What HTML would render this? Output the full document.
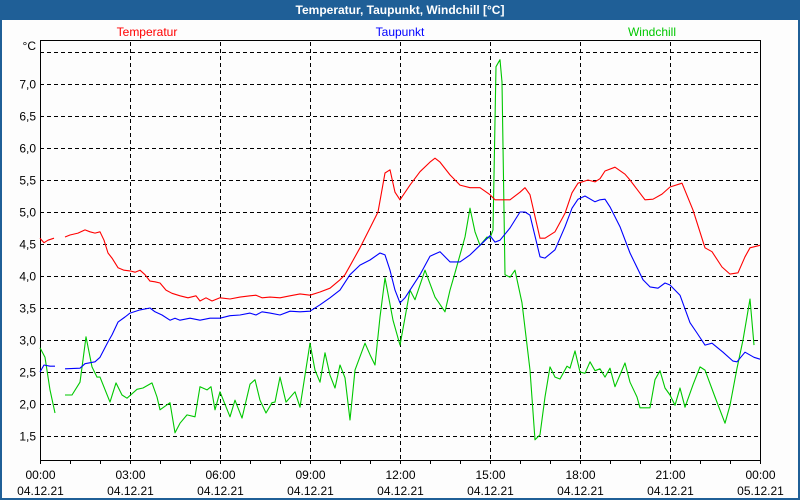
<!DOCTYPE html>
<html><head><meta charset="utf-8"><style>
html,body{margin:0;padding:0;}
body{width:800px;height:500px;background:#1f5f97;overflow:hidden;font-family:"Liberation Sans","DejaVu Sans",sans-serif;}
#win{position:absolute;left:2px;top:20px;width:796px;height:478px;background:#fdfdfd;}
#title{position:absolute;left:0;top:0;width:800px;height:20px;line-height:20px;text-align:center;color:#fff;font-weight:bold;font-size:12px;}
svg{position:absolute;left:0;top:0;}
</style></head><body>
<div id="title">Temperatur, Taupunkt, Windchill [°C]</div>
<div id="win"></div>
<svg id="chart" width="800" height="500"></svg>
<script>
const yTicks = [1.5,2.0,2.5,3.0,3.5,4.0,4.5,5.0,5.5,6.0,6.5,7.0,7.5];
const yLabelMax = 7.0;
const xTickHours = [0,3,6,9,12,15,18,21,24];
const xTimeLabels = ["00:00","03:00","06:00","09:00","12:00","15:00","18:00","21:00","00:00"];
const xDateLabels = ["04.12.21","04.12.21","04.12.21","04.12.21","04.12.21","04.12.21","04.12.21","04.12.21","05.12.21"];
const seriesNames = ["Temperatur","Taupunkt","Windchill"];
// minutes since 00:00, null = gap
const tempT = [0,8,16,28,null,50,60,76,90,100,110,120,128,136,144,156,168,180,190,200,210,220,230,240,252,264,280,296,312,320,332,344,360,380,400,420,432,444,460,480,500,520,540,560,580,600,610,620,640,660,676,690,700,710,720,740,760,780,790,800,820,840,860,880,900,910,930,940,960,970,980,1000,1010,1030,1050,1064,1076,1096,1110,1120,1130,1150,1170,1180,1210,1226,1244,1260,1284,1306,1330,1344,1364,1380,1396,1410,1420,1440];
const tempV = [4.59,4.52,4.56,4.59,null,4.61,4.64,4.67,4.72,4.69,4.67,4.69,4.56,4.36,4.28,4.13,4.09,4.08,4.06,4.09,4.02,3.92,3.91,3.89,3.78,3.73,3.69,3.66,3.69,3.61,3.66,3.61,3.66,3.64,3.67,3.69,3.70,3.66,3.67,3.66,3.69,3.72,3.70,3.75,3.81,3.94,4.02,4.16,4.44,4.75,5.0,5.61,5.66,5.31,5.19,5.42,5.63,5.78,5.84,5.78,5.58,5.42,5.38,5.38,5.27,5.19,5.19,5.19,5.31,5.38,5.27,4.59,4.59,4.69,4.98,5.30,5.45,5.50,5.47,5.52,5.64,5.70,5.59,5.50,5.19,5.20,5.28,5.39,5.45,5.03,4.44,4.38,4.14,4.03,4.05,4.30,4.44,4.48];
const dewT = [0,8,20,30,null,50,80,90,110,120,136,144,156,170,180,200,220,230,244,260,270,280,300,320,340,360,380,400,420,432,444,460,480,500,520,540,560,580,600,620,640,660,680,690,700,710,720,730,740,760,780,800,820,840,860,880,900,910,920,940,960,970,980,1000,1010,1030,1050,1064,1076,1090,1110,1120,1130,1140,1160,1180,1206,1220,1236,1250,1260,1280,1300,1314,1330,1344,1366,1386,1394,1410,1428,1440];
const dewV = [2.5,2.61,2.59,2.59,null,2.55,2.56,2.63,2.66,2.73,2.97,3.08,3.28,3.36,3.42,3.47,3.5,3.44,3.39,3.31,3.34,3.31,3.34,3.31,3.34,3.34,3.38,3.39,3.42,3.39,3.44,3.42,3.39,3.45,3.44,3.45,3.55,3.66,3.78,4.02,4.17,4.25,4.36,4.33,4.09,3.78,3.58,3.66,3.78,4.02,4.31,4.38,4.22,4.22,4.33,4.48,4.63,4.53,4.56,4.75,5.0,5.0,4.95,4.30,4.28,4.41,4.77,5.06,5.20,5.25,5.16,5.19,5.20,5.08,4.77,4.36,3.94,3.83,3.81,3.89,3.86,3.70,3.27,3.11,2.92,2.95,2.81,2.67,2.66,2.81,2.73,2.70];
const chillT = [0,10,20,30,null,50,64,80,86,92,104,114,120,140,152,164,174,194,206,224,234,240,260,270,280,294,310,320,334,342,350,360,380,390,404,420,430,440,452,464,470,480,492,510,520,540,550,560,570,580,590,600,610,620,630,650,660,670,680,690,706,720,740,750,770,790,810,820,830,850,860,870,880,894,900,906,912,920,924,930,940,950,964,980,990,1000,1010,1020,1030,1040,1054,1060,1070,1080,1090,1100,1110,1120,1130,1140,1150,1170,1180,1194,1200,1220,1230,1240,1250,1260,1270,1280,1290,1306,1320,1330,1350,1370,1380,1394,1406,1420,1428];
const chillV = [2.88,2.73,2.22,1.86,null,2.14,2.14,2.34,2.69,3.05,2.58,2.42,2.42,2.03,2.33,2.14,2.09,2.23,2.25,2.33,2.11,1.91,2.02,1.55,1.70,1.83,1.80,2.27,2.22,2.27,1.91,2.19,1.80,2.06,1.78,2.31,2.38,2.06,1.86,2.02,2.03,2.42,2.03,2.19,1.95,2.95,2.53,2.34,2.80,2.45,2.25,2.61,2.41,1.75,2.53,2.95,2.77,2.61,3.36,3.97,3.31,2.92,3.78,3.63,4.09,3.67,3.44,3.78,4.05,4.61,5.06,4.69,4.48,4.61,4.59,4.72,7.27,7.38,7.03,4.02,3.98,4.09,3.58,2.53,1.44,1.52,2.11,2.58,2.42,2.39,2.59,2.56,2.83,2.5,2.48,2.66,2.52,2.55,2.42,2.56,2.27,2.64,2.34,2.11,1.94,1.94,2.38,2.52,2.25,2.14,1.98,2.25,1.95,2.30,2.58,2.53,2.11,1.70,1.98,2.56,3.0,3.64,2.92];

const NS="http://www.w3.org/2000/svg";
const svg=document.getElementById('chart');
const L=40,R=760,T=40,B=460;
function xS(min){return L+(min/1440)*(R-L);}
function yS(v){return 84+(7-v)*64;}
function mk(tag,attrs,parent){const e=document.createElementNS(NS,tag);for(const k in attrs)e.setAttribute(k,attrs[k]);(parent||svg).appendChild(e);return e;}

yTicks.forEach(v=>{
  const y=Math.round(yS(v))+0.5;
  const g=mk('line',{x1:L,x2:R-2,y1:y,y2:y,stroke:'#000','stroke-dasharray':'4,3','stroke-width':1});
  
  
  if(v<=yLabelMax){
    const t=mk('text',{x:36,y:y+4,'text-anchor':'end','font-size':12,fill:'#000'});
    t.textContent=v.toFixed(1).replace('.',',');
    
    
  }
});
xTickHours.forEach((h,i)=>{
  const x=Math.round(xS(h*60))+0.5;
  if(h>0&&h<24){
    const g=mk('line',{x1:x,x2:x,y1:T+2,y2:B,stroke:'#000','stroke-dasharray':'4,3','stroke-width':1});
    
    
  }
  const t1=mk('text',{x:x,y:479,'text-anchor':'middle','font-size':12,fill:'#000'});
  t1.textContent=xTimeLabels[i];
  
  
  const t2=mk('text',{x:x,y:495,'text-anchor':'middle','font-size':12,fill:'#000'});
  t2.textContent=xDateLabels[i];
  
  
});
for(let h=0;h<=24;h++){
  const x=Math.round(xS(h*60))+0.5;
  const tk=mk('line',{x1:x,x2:x,y1:B,y2:B+4,stroke:'#000'});
  
  
}
const box=mk('rect',{x:L+0.5,y:T+0.5,width:R-L,height:B-T,fill:'none',stroke:'#000','stroke-width':1});


const unit=mk('text',{x:36,y:50,'text-anchor':'end','font-size':12,fill:'#000'});
unit.textContent='°C';



const colors=['#ff0000','#0000ff','#00c800'];
const legX=[147,400,652];
seriesNames.forEach((n,i)=>{
  const t=mk('text',{x:legX[i],y:36,'text-anchor':'middle','font-size':12,fill:colors[i]});
  t.textContent=n;
  
  
});

function drawSeries(ts,vs,color,name){
  let d='',pen=false;
  for(let i=0;i<ts.length;i++){
    if(ts[i]===null||vs[i]===null){pen=false;continue;}
    d+=(pen?'L':'M')+xS(ts[i]).toFixed(1)+' '+yS(vs[i]).toFixed(1)+' ';
    pen=true;
  }
  const p=mk('path',{d:d,fill:'none',stroke:color,'stroke-width':1.1,'stroke-linejoin':'round'});
  
  
}
drawSeries(chillT,chillV,colors[2],'windchill-line');
drawSeries(dewT,dewV,colors[1],'dewpoint-line');
drawSeries(tempT,tempV,colors[0],'temperature-line');
</script>
</body></html>
